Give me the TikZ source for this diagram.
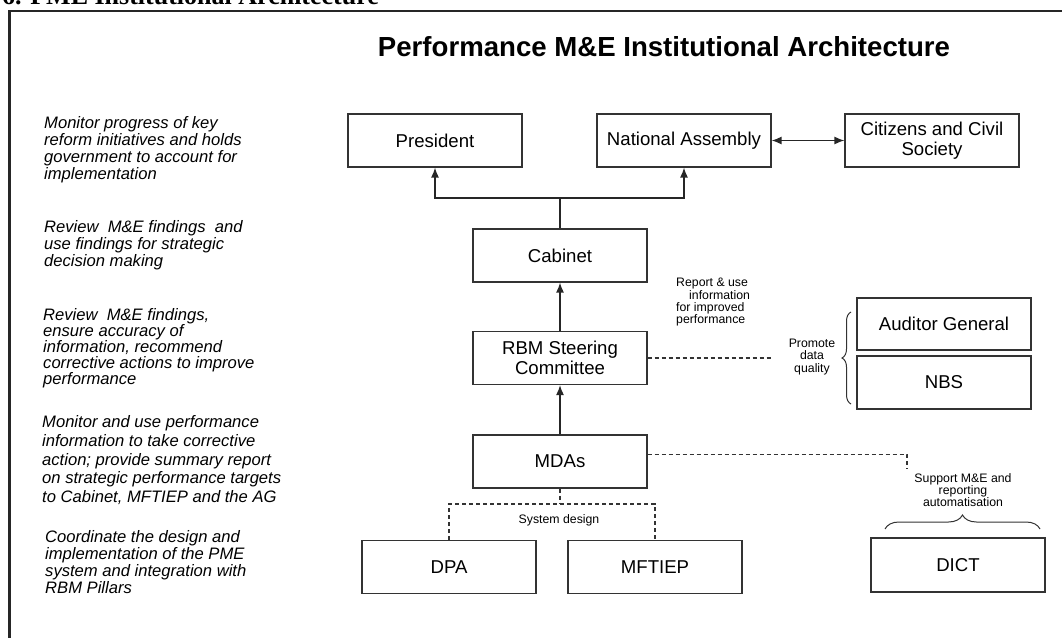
\documentclass[tikz,border=0pt]{standalone}
\usepackage{fontspec}
\setmainfont{Liberation Sans}
\newfontfamily\headserif{Liberation Serif}
\usetikzlibrary{arrows.meta,decorations.pathreplacing,calc}
\begin{document}
\begin{tikzpicture}[x=1pt,y=-1pt,
  unit/.style={draw=black!80, line width=1.2pt, minimum width=174pt, minimum height=53pt,
    inner sep=0pt, align=center, font=\fontsize{18.6}{19.5}\selectfont},
  role/.style={anchor=north west, inner sep=0pt, align=left,
    font=\fontsize{16.6}{#1}\selectfont\itshape},
  note/.style={inner sep=0pt, align=center, font=\fontsize{12.3}{12.4}\selectfont},
  tip/.tip={Latex[length=10pt,width=8pt]},
  link/.style={line width=1.3pt, draw=black!85, -tip},
  plain/.style={line width=1.3pt, draw=black!85},
  dashlink/.style={line width=1.2pt, draw=black!80, dash pattern=on 4pt off 3pt},
  bracket/.style={line width=1pt, draw=black!80, decorate, decoration={brace, amplitude=#1}}
]
\useasboundingbox (0,0) rectangle (1062,637);
\clip (0,0) rectangle (1062,637);

% section heading above the frame and the frame itself
\node[anchor=base west, inner sep=0pt, font=\headserif\fontsize{26}{28}\selectfont\bfseries]
  (heading) at (2,5) {6. PME Institutional Architecture};
\draw[line width=2.5pt, draw=black!85] (9.5,700) -- (9.5,11) -- (1100,11);

% title
\node[anchor=base, inner sep=0pt, font=\fontsize{27.6}{30}\selectfont\bfseries]
  (title) at (664,56) {Performance M\&E Institutional Architecture};

% responsibilities on the left
\node[role=17] (r1) at (44,116.5) {Monitor progress of key\\reform initiatives and holds\\government to account for\\implementation};
\node[role=17] (r2) at (44,220.5) {Review~ M\&E findings~ and\\use findings for strategic\\decision making};
\node[role=16] (r3) at (43,308.5) {Review~ M\&E findings,\\ensure accuracy of\\information, recommend\\corrective actions to improve\\performance};
\node[role=18.7] (r4) at (42,415.5) {Monitor and use performance\\information to take corrective\\action; provide summary report\\on strategic performance targets\\to Cabinet, MFTIEP and the AG};
\node[role=17] (r5) at (45,530.5) {Coordinate the design and\\implementation of the PME\\system and integration with\\RBM Pillars};

% institutions
\node[unit] (pres) at (435,140.5) {President};
\node[unit] (na)   at (684,140.5) {National Assembly};
\node[unit] (cit)  at (932,140.5) {Citizens and Civil\\Society};
\node[unit] (cab)  at (560,255.5) {Cabinet};
\node[unit] (rbm)  at (560,358)   {RBM Steering\\Committee};
\node[unit] (mda)  at (560,461.5) {MDAs};
\node[unit] (dpa)  at (449,567)   {DPA};
\node[unit] (mft)  at (655,567)   {MFTIEP};
\node[unit, minimum height=54pt] (dict) at (958,565) {DICT};
\node[unit, minimum height=52pt] (ag)   at (944,324) {Auditor General};
\node[unit] (nbs)  at (944,382.5) {NBS};

% reporting lines
\coordinate (split) at (560,198);
\draw[plain] (cab.north) -- (split);
\draw[link] (split) -| (pres.south);
\draw[link] (split) -| (na.south);
\draw[plain, tip-tip] (na.east) -- (cit.west);
\draw[link] (rbm.north) -- (cab.south);
\draw[link] (mda.north) -- (rbm.south);

\node[note, align=left, anchor=north west] (report) at (676,278)
  {Report \& use\\\hspace*{13pt}information\\for improved\\performance};

% data quality
\coordinate (dqend) at (773,358);
\draw[dashlink] (rbm.east) -- (dqend);
\node[note] (promote) at (812,357) {Promote\\data\\quality};
\coordinate (dqlow) at (851,404);
\coordinate (dqhigh) at (851,312);
\draw[bracket=9pt] (dqlow) -- (dqhigh);

% system design
\coordinate (sd) at (560,504);
\draw[dashlink] (mda.south) -- (sd);
\draw[dashlink] (dpa.north) |- (sd) -| (mft.north);
\node[note] (sysd) at (559,520) {System design};

% ICT support
\coordinate (mdaport) at ($(mda.north east)+(0,20)$);
\coordinate (supend) at (907,469);
\draw[dashlink] (mdaport) -| (supend);
\node[note] (supp) at (963,490) {Support M\&E and\\reporting\\automatisation};
\coordinate (ictleft) at (885,529);
\coordinate (ictright) at (1040,529);
\draw[bracket=14pt] (ictleft) -- (ictright);
\end{tikzpicture}
\end{document}
